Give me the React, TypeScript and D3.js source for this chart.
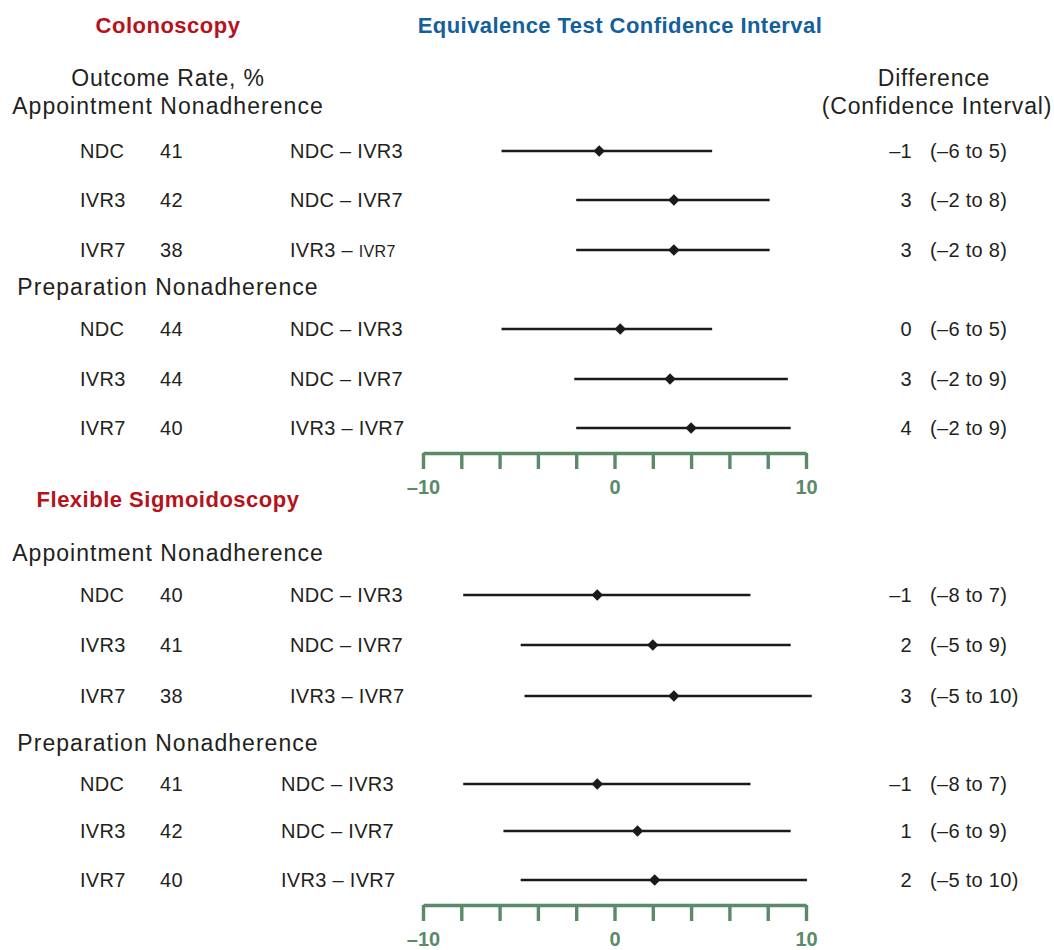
import React, { useEffect, useRef } from "react";
import * as d3 from "d3";

// ---- data ----
const arms = ["NDC", "IVR3", "IVR7"];
const comparisons = ["NDC \u2013 IVR3", "NDC \u2013 IVR7", "IVR3 \u2013 IVR7"];

// outcome rates, %
const colonAppointRates = [41, 42, 38];
const colonPrepRates = [44, 44, 40];
const flexAppointRates = [40, 41, 38];
const flexPrepRates = [41, 42, 40];

// printed difference and CI
const colonAppointDiff = [-1, 3, 3];
const colonAppointCI = [[-6, 5], [-2, 8], [-2, 8]];
const colonPrepDiff = [0, 3, 4];
const colonPrepCI = [[-6, 5], [-2, 9], [-2, 9]];
const flexAppointDiff = [-1, 2, 3];
const flexAppointCI = [[-8, 7], [-5, 9], [-5, 10]];
const flexPrepDiff = [-1, 1, 2];
const flexPrepCI = [[-8, 7], [-6, 9], [-5, 10]];

// plotted estimates (unrounded, as drawn)
const colonAppointEst = [-0.8, 3.1, 3.1];
const colonAppointLo = [-5.9, -2.0, -2.0];
const colonAppointHi = [5.1, 8.1, 8.1];
const colonPrepEst = [0.3, 2.9, 4.0];
const colonPrepLo = [-5.9, -2.1, -2.0];
const colonPrepHi = [5.1, 9.05, 9.2];
const flexAppointEst = [-0.9, 2.0, 3.1];
const flexAppointLo = [-7.9, -4.9, -4.7];
const flexAppointHi = [7.1, 9.2, 10.3];
const flexPrepEst = [-0.9, 1.2, 2.1];
const flexPrepLo = [-7.9, -5.8, -4.9];
const flexPrepHi = [7.1, 9.2, 10.05];

const axisTicks = [-10, -8, -6, -4, -2, 0, 2, 4, 6, 8, 10];
const axisLabels = [-10, 0, 10];

const dash = (v: number) => (v < 0 ? "\u2013" + Math.abs(v) : String(v));

const FONT = "'Liberation Sans', Arial, Helvetica, sans-serif";
const INK = "#231f20";
const RED = "#b5121b";
const BLUE = "#13609c";
const GREEN = "#5a8a68";

const x = d3.scaleLinear().domain([-10, 10]).range([423, 806]);
const diamond = d3.symbol(d3.symbolSquare, 66)();

type Group = {
  title: string;
  titleY: number;
  titleX: number;
  rowsY: number[];
  rates: number[];
  diff: number[];
  ci: number[][];
  est: number[];
  lo: number[];
  hi: number[];
  compX: number;
  shrinkLast?: number;
};

type Panel = {
  name: string;
  nameX: number;
  nameY: number;
  axisY: number;
  groups: Group[];
};

const panels: Panel[] = [
  {
    name: "Colonoscopy", nameX: 168, nameY: 25, axisY: 453,
    groups: [
      { title: "Appointment Nonadherence", titleX: 168, titleY: 106, rowsY: [151, 200, 250],
        rates: colonAppointRates, diff: colonAppointDiff, ci: colonAppointCI,
        est: colonAppointEst, lo: colonAppointLo, hi: colonAppointHi, compX: 290, shrinkLast: 2 },
      { title: "Preparation Nonadherence", titleX: 168, titleY: 287, rowsY: [329, 379, 428],
        rates: colonPrepRates, diff: colonPrepDiff, ci: colonPrepCI,
        est: colonPrepEst, lo: colonPrepLo, hi: colonPrepHi, compX: 290 },
    ],
  },
  {
    name: "Flexible Sigmoidoscopy", nameX: 168, nameY: 499, axisY: 905,
    groups: [
      { title: "Appointment Nonadherence", titleX: 168, titleY: 553, rowsY: [595, 645, 696],
        rates: flexAppointRates, diff: flexAppointDiff, ci: flexAppointCI,
        est: flexAppointEst, lo: flexAppointLo, hi: flexAppointHi, compX: 290 },
      { title: "Preparation Nonadherence", titleX: 168, titleY: 743, rowsY: [784, 831, 880],
        rates: flexPrepRates, diff: flexPrepDiff, ci: flexPrepCI,
        est: flexPrepEst, lo: flexPrepLo, hi: flexPrepHi, compX: 281 },
    ],
  },
];

function Axis({ y }: { y: number }) {
  const ref = useRef<SVGGElement>(null);
  useEffect(() => {
    const g = d3.select(ref.current);
    g.selectAll("*").remove();
    g.call(
      d3.axisBottom(x)
        .tickValues(axisTicks)
        .tickSize(16)
        .tickSizeOuter(0)
        .tickPadding(11)
        .tickFormat((d) => (axisLabels.includes(+d) ? dash(+d) : ""))
    );
    g.select(".domain").attr("stroke", GREEN).attr("stroke-width", 3.4);
    g.selectAll(".tick line").attr("stroke", GREEN).attr("stroke-width", 3.4);
    g.selectAll(".tick text")
      .attr("fill", GREEN)
      .attr("font-family", FONT)
      .attr("font-weight", "bold")
      .attr("font-size", 20);
  }, [y]);
  return <g ref={ref} transform={`translate(0,${y})`} />;
}

export default function App() {
  const rowFont = { fontFamily: FONT, fontSize: 20, fill: INK, letterSpacing: 0.3 };
  const headFont = { fontFamily: FONT, fontSize: 23, fill: INK, letterSpacing: 0.8 };
  const groupFont = { ...headFont, letterSpacing: 1.05 };
  return (
    <svg width={1054} height={950} style={{ position: "absolute", left: 0, top: 0, background: "#fff" }}>
      <text x={620} y={25} dy="0.35em" textAnchor="middle" fontFamily={FONT} fontWeight="bold" fontSize={22} fill={BLUE} letterSpacing={0.45}>
        Equivalence Test Confidence Interval
      </text>
      <text x={168} y={78} dy="0.35em" textAnchor="middle" {...headFont}>Outcome Rate, %</text>
      <text x={934} y={78} dy="0.35em" textAnchor="middle" {...headFont}>Difference</text>
      <text x={937} y={106} dy="0.35em" textAnchor="middle" {...headFont}>(Confidence Interval)</text>

      {panels.map((p, pi) => (
        <g key={pi}>
          <text x={p.nameX} y={p.nameY} dy="0.35em" textAnchor="middle" fontFamily={FONT} fontWeight="bold" fontSize={22} fill={RED} letterSpacing={0.5}>
            {p.name}
          </text>
          {p.groups.map((gr, gi) => (
            <g key={gi}>
              <text x={gr.titleX} y={gr.titleY} dy="0.35em" textAnchor="middle" {...groupFont}>{gr.title}</text>
              {gr.rowsY.map((ry, i) => {
                const parts = comparisons[i].split(" \u2013 ");
                return (
                  <g key={i}>
                    <text x={80} y={ry} dy="0.35em" {...rowFont}>{arms[i]}</text>
                    <text x={160} y={ry} dy="0.35em" {...rowFont}>{gr.rates[i]}</text>
                    <text x={gr.compX} y={ry} dy="0.35em" {...rowFont}>
                      {gr.shrinkLast === i ? (
                        <>
                          {parts[0] + " \u2013 "}
                          <tspan fontSize={16}>{parts[1]}</tspan>
                        </>
                      ) : (
                        comparisons[i]
                      )}
                    </text>
                    <line x1={x(gr.lo[i])} x2={x(gr.hi[i])} y1={ry} y2={ry} stroke="#1a1a1a" strokeWidth={2.6} />
                    <path d={diamond ?? ""} transform={`translate(${x(gr.est[i])},${ry}) rotate(45)`} fill="#1a1a1a" />
                    <text x={912} y={ry} dy="0.35em" textAnchor="end" {...rowFont}>{dash(gr.diff[i])}</text>
                    <text x={930} y={ry} dy="0.35em" {...rowFont}>
                      {`(${dash(gr.ci[i][0])} to ${dash(gr.ci[i][1])})`}
                    </text>
                  </g>
                );
              })}
            </g>
          ))}
          <Axis y={p.axisY} />
        </g>
      ))}
    </svg>
  );
}
